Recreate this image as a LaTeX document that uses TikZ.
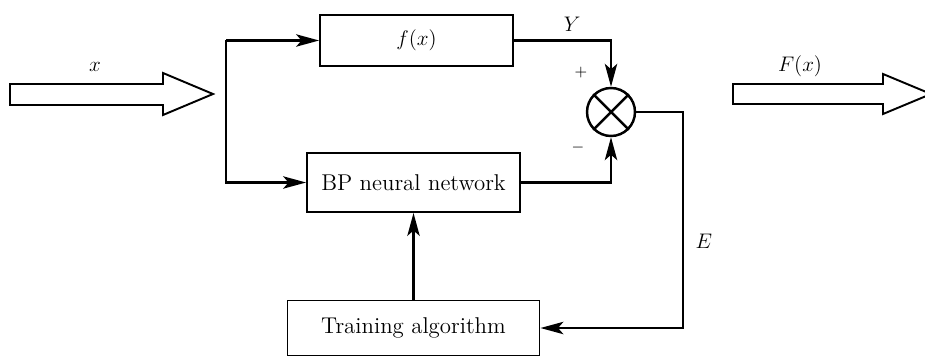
\documentclass[tikz,border=0pt]{standalone}
\usepackage{amsmath}
\usepackage{tikz}
\usetikzlibrary{positioning, arrows, arrows.meta}

\begin{document}
\begin{tikzpicture}[x=0.02cm, y=-0.02cm]
	\tikzstyle{block} = [rectangle, draw, line width=1.1pt, inner sep=0pt, font=\fontsize{13}{15}\selectfont]
	\tikzstyle{link} = [line width=1.4pt, -{Stealth[length=13pt, width=7pt, inset=3pt]}]
	\tikzstyle{lbl} = [font=\fontsize{13}{15}\selectfont]
	\useasboundingbox (0,0) rectangle (925,358);
	
	\node [block, minimum width=3.86cm, minimum height=1.02cm] (fx) at (416.5,40.5) {$f(x)$};
	\node [block, minimum width=4.26cm, minimum height=1.18cm] (bp) at (413.5,182.5) {BP neural network};
	\node [block, minimum width=5.04cm, minimum height=1.1cm] (train) at (413.5,328) {Training algorithm};
	\node [circle, draw, line width=1.4pt, minimum size=0.96cm, inner sep=0pt] (sum) at (611,112) {};
	\draw [line width=1.4pt] (sum.north west) -- (sum.south east) (sum.north east) -- (sum.south west);
	
	% input / output
	\draw [line width=1.1pt] (10,84) -- (163,84) -- (163,73) -- (213,94) -- (163,115) -- (163,105) -- (10,105) -- cycle;
	\draw [line width=1.1pt] (733,84) -- (883,84) -- (883,74) -- (931,94) -- (883,114) -- (883,104) -- (733,104) -- cycle;
	\node [lbl] (xin) at (95,67) {$x$};
	\node [lbl] (fout) at (800,66) {$F(x)$};
	
	\coordinate (ftop) at (226,40.5);
	\coordinate (fbot) at (226,182.5);
	\draw [link] (ftop) -- (fx.west);
	\draw [link] (ftop) -- (fbot) -- (bp.west);
	
	\draw [link] (fx.east) -| node [pos=0.3, above=1pt, lbl] {$Y$} (sum.north);
	\draw [link] (bp.east) -| (sum.south);
	\node (plus) at (581,73) {\small $+$};
	\node (minus) at (578,148) {\small $-$};
	
	\draw [link] (sum.east) -- ++(47,0) |- node [pos=0.3, right=3pt, lbl] {$E$} (train.east);
	\draw [link] (train.north) -- (bp.south);
\end{tikzpicture}
\end{document}
